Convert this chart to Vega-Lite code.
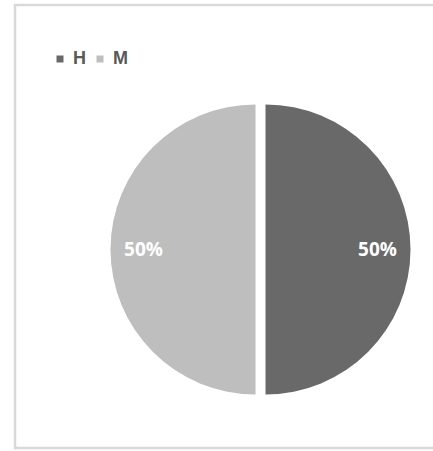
{
  "$schema": "https://vega.github.io/schema/vega-lite/v6.json",
  "width": 420,
  "height": 443,
  "autosize": {"type": "none"},
  "padding": {"left": 15, "top": 5, "right": -2, "bottom": 3},
  "background": "white",
  "config": {"view": {"stroke": "#d9d9d9", "strokeWidth": 2.5}},
  "data": {"values": [{"cat": "H", "share": 0.5}, {"cat": "M", "share": 0.5}]},
  "encoding": {
    "theta": {"field": "share", "type": "quantitative", "stack": true},
    "x": {"field": "cat", "type": "nominal", "scale": {"type": "point", "domain": ["H", "M"], "range": [250.5, 240.5], "padding": 0}, "axis": null},
    "y": {"value": 244.5}
  },
  "layer": [
    {
      "mark": {"type": "arc", "radius": 145},
      "encoding": {
        "color": {
          "field": "cat", "type": "nominal",
          "scale": {"domain": ["H", "M"], "range": ["#696969", "#bebebe"]},
          "legend": {
            "orient": "none", "legendX": 36, "legendY": 45, "direction": "horizontal",
            "title": null, "symbolType": "square", "symbolSize": 49, "symbolStrokeWidth": 0,
            "labelFont": "Liberation Sans", "labelFontSize": 18, "labelFontWeight": "bold", "labelColor": "#595959",
            "labelOffset": 4, "columnPadding": 5, "padding": 0
          }
        }
      }
    },
    {
      "mark": {"type": "text", "radius": 112, "fontSize": 19, "font": "Open Sans", "fontWeight": "bold", "fill": "white", "baseline": "middle", "align": "center"},
      "encoding": {"text": {"field": "share", "type": "quantitative", "format": ".0%"}}
    }
  ]
}
